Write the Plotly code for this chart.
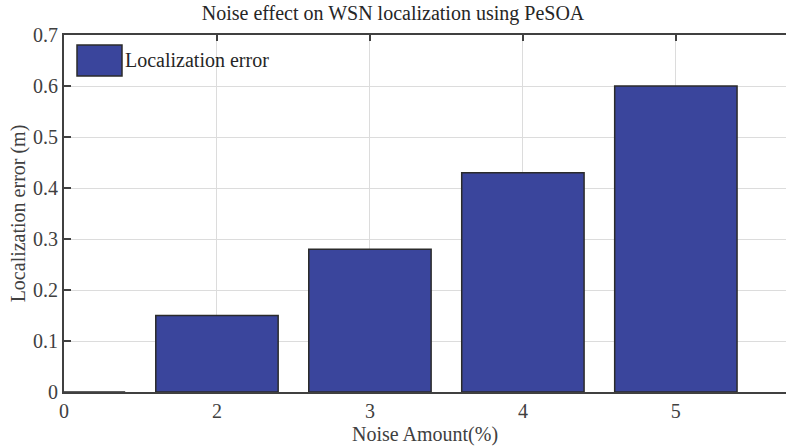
import plotly.graph_objects as go

positions = [0, 1, 2, 3, 4]
tick_labels = ["0", "2", "3", "4", "5"]
errors = [0.0, 0.15, 0.28, 0.43, 0.60]
series_name = "Localization error"
y_ticks = [0, 0.1, 0.2, 0.3, 0.4, 0.5, 0.6, 0.7]
y_tick_labels = ["0", "0.1", "0.2", "0.3", "0.4", "0.5", "0.6", "0.7"]

FONT = "Liberation Serif, Times New Roman, serif"
BAR = "#3a459c"
AX = "#404040"
FS = 20

fig = go.Figure()
fig.add_trace(go.Bar(
    x=positions, y=errors, width=0.8, name=series_name,
    marker=dict(color=BAR, line=dict(color="#2b2b2b", width=1.5)),
    showlegend=False, xaxis="x", yaxis="y",
))
# invisible trace to anchor the top axis
fig.add_trace(go.Scatter(x=positions, y=errors, xaxis="x2", yaxis="y",
                         mode="markers", marker=dict(opacity=0),
                         showlegend=False, hoverinfo="skip"))

fig.update_layout(
    width=786, height=446,
    margin=dict(l=64, r=0, t=35, b=54, autoexpand=False),
    paper_bgcolor="white", plot_bgcolor="white",
    font=dict(family=FONT, size=FS, color="#404040"),
    title=dict(text="Noise effect on WSN localization using PeSOA",
               x=0.5, xanchor="center", y=1 - 13 / 446, yanchor="middle",
               font=dict(family=FONT, size=FS, color="#262626")),
    xaxis=dict(range=[0, 4.72], tickmode="array", tickvals=positions,
               ticktext=tick_labels, showgrid=True, gridcolor="#dcdcdc",
               gridwidth=1, zeroline=False, showline=True, linecolor=AX,
               linewidth=2, ticks="", automargin=False,
               title=dict(text="Noise Amount(%)", standoff=7,
                          font=dict(family=FONT, size=FS, color="#404040")),
               tickfont=dict(family=FONT, size=FS, color="#404040")),
    xaxis2=dict(range=[0, 4.72], overlaying="x", side="top", tickmode="array",
                tickvals=positions, showticklabels=False, showgrid=False,
                zeroline=False, showline=True, linecolor=AX, linewidth=2,
                ticks="inside", ticklen=6, tickwidth=2, tickcolor=AX, anchor="y",
                automargin=False),
    yaxis=dict(range=[0, 0.7], tickmode="array", tickvals=y_ticks,
               ticktext=y_tick_labels, showgrid=True,
               gridcolor="#dcdcdc", gridwidth=1, zeroline=False, showline=True,
               linecolor=AX, linewidth=2, ticks="inside", ticklen=7, tickwidth=2,
               tickcolor=AX, automargin=False,
               title=dict(text="Localization error (m)", standoff=2,
                          font=dict(family=FONT, size=FS, color="#404040")),
               tickfont=dict(family=FONT, size=FS, color="#404040")),
)

# legend drawn as swatch + label in paper coordinates
PW, PH = 722, 357
fig.add_shape(type="rect", xref="paper", yref="paper",
              x0=13 / PW, x1=58 / PW, y0=1 - 41 / PH, y1=1 - 10 / PH,
              fillcolor=BAR, line=dict(color="#2b2b2b", width=1.5))
fig.add_annotation(text=series_name, xref="paper", yref="paper",
                   x=59 / PW, y=1 - 25.5 / PH, xanchor="left", yanchor="middle",
                   showarrow=False, font=dict(family=FONT, size=FS, color="#262626"))

fig.write_html("out.html",
               config={"displayModeBar": False},
               post_script="document.body.style.margin='0px';"
                           "document.body.style.overflow='hidden';")
